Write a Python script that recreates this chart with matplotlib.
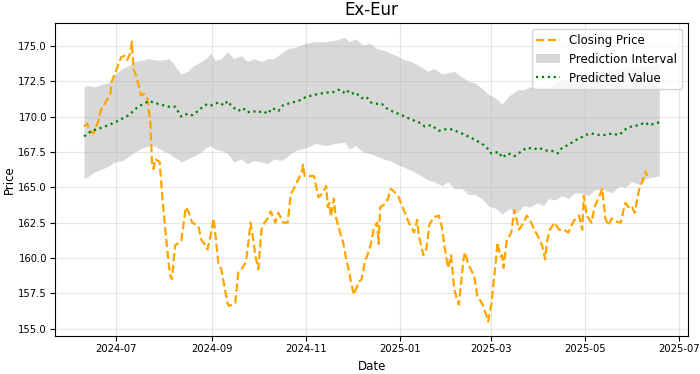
import pandas as pd
import matplotlib
matplotlib.use("Agg")
import matplotlib.pyplot as plt

# all series are days counted from the first date
start = pd.Timestamp("2024-06-10")

close_day = [0, 2, 4, 6, 9, 11, 15, 17, 18, 21, 24, 26, 28, 30, 31, 32, 34, 37, 39, 41,
             43, 44, 45, 46, 49, 51, 53, 55, 56, 57, 59, 63, 66, 68, 70, 74, 76, 78, 80, 82,
             84, 85, 87, 89, 91, 93, 94, 98, 100, 102, 105, 108, 110, 111, 112, 113, 115, 117, 119, 121,
             124, 126, 129, 132, 134, 136, 139, 141, 142, 143, 146, 149, 152, 155, 157, 158, 159, 160, 162, 163,
             166, 168, 170, 172, 173, 175, 178, 180, 182, 184, 186, 188, 190, 191, 192, 195, 197, 199, 201, 204,
             208, 211, 214, 216, 217, 220, 222, 224, 227, 230, 232, 234, 236, 238, 240, 242, 243, 246, 247, 249,
             253, 255, 258, 261, 262, 264, 267, 268, 270, 271, 272, 274, 277, 279, 282, 285, 287, 289, 292, 294,
             297, 299, 300, 302, 305, 308, 311, 314, 316, 318, 321, 323, 324, 326, 329, 331, 335, 336, 338, 340,
             342, 344, 348, 350, 351, 353, 355, 357, 360, 362, 364, 365]
close_val = [169.3, 169.5, 169.0, 168.8, 169.6, 170.5, 171.2, 171.6, 172.5, 173.3, 174.2, 174.3, 174.0, 174.5, 175.3, 173.4, 172.8, 171.5, 171.6, 171.3,
             169.6, 166.8, 166.3, 167.0, 166.8, 164.0, 161.6, 159.5, 158.7, 158.5, 160.9, 161.2, 163.6, 163.2, 162.5, 162.3, 161.3, 161.0, 160.6, 161.6,
             162.8, 161.8, 159.7, 159.2, 158.0, 156.8, 156.6, 156.8, 159.0, 159.2, 159.7, 162.5, 161.1, 160.2, 159.7, 159.2, 162.0, 162.5, 162.8, 163.3,
             162.5, 163.2, 162.5, 162.5, 164.5, 164.9, 165.6, 166.0, 166.6, 165.8, 165.8, 165.8, 164.3, 164.6, 165.1, 163.6, 163.9, 162.9, 164.2, 163.0,
             161.8, 161.1, 159.9, 159.0, 158.3, 157.4, 158.3, 158.5, 159.7, 160.3, 161.0, 162.2, 162.5, 161.0, 163.6, 163.8, 164.2, 164.9, 164.7, 164.3,
             163.2, 162.4, 161.8, 162.7, 161.6, 160.2, 160.7, 162.4, 162.9, 163.0, 162.2, 160.6, 159.3, 160.2, 157.8, 157.0, 156.7, 159.9, 160.4, 159.6,
             158.7, 157.3, 156.8, 155.9, 155.5, 156.7, 159.8, 161.1, 160.1, 160.2, 159.3, 161.2, 161.8, 163.4, 162.0, 162.5, 163.0, 162.7, 162.0, 161.6,
             160.9, 159.9, 161.1, 162.0, 162.5, 162.0, 162.0, 161.8, 162.3, 162.7, 163.0, 162.0, 164.4, 163.0, 162.5, 163.6, 164.6, 164.9, 162.8, 162.3,
             162.8, 162.6, 162.5, 163.5, 163.9, 163.6, 163.7, 163.2, 164.9, 165.4, 166.1, 165.8]

band_day = [0, 3, 7, 12, 16, 20, 25, 29, 33, 38, 42, 46, 51, 55, 59, 63, 67, 71, 76, 79,
            82, 85, 89, 93, 97, 102, 106, 110, 115, 119, 123, 128, 132, 137, 144, 150, 157, 163, 169, 172,
            176, 181, 185, 190, 194, 198, 203, 206, 212, 219, 223, 227, 232, 236, 240, 245, 249, 253, 258, 262,
            267, 271, 276, 281, 285, 289, 294, 298, 301, 305, 310, 314, 318, 323, 327, 331, 336, 342, 347, 351,
            355, 360, 364, 368, 373]
band_upper = [172.1, 172.2, 172.1, 172.3, 172.4, 173.0, 173.4, 173.6, 173.9, 174.0, 174.1, 174.0, 174.0, 174.1, 173.6, 173.0, 173.2, 173.6, 173.9, 174.1,
              174.5, 174.0, 174.1, 174.6, 174.1, 174.3, 173.9, 174.1, 173.9, 174.1, 174.1, 174.5, 174.8, 174.9, 175.2, 175.3, 175.3, 175.4, 175.6, 175.3,
              175.5, 175.05, 175.2, 174.8, 174.7, 174.5, 174.3, 174.1, 173.9, 173.5, 173.2, 173.4, 173.0, 173.1, 173.2, 172.8, 172.5, 172.4, 172.0, 171.6,
              171.3, 170.9, 171.5, 171.9, 171.9, 172.1, 172.0, 172.2, 171.9, 172.4, 172.5, 172.7, 172.7, 173.0, 173.0, 173.2, 173.2, 173.3, 173.4, 173.4,
              173.5, 173.5, 173.6, 173.6, 173.7]
band_lower = [165.6, 165.8, 166.1, 166.3, 166.5, 166.8, 166.9, 167.2, 167.5, 167.8, 167.95, 167.9, 167.6, 167.4, 167.1, 166.8, 167.0, 167.2, 167.5, 167.8,
              167.95, 167.7, 167.6, 167.4, 166.8, 167.0, 166.65, 166.9, 166.8, 166.65, 167.0, 166.9, 167.2, 167.6, 167.8, 168.1, 167.95, 168.1, 168.2, 167.7,
              167.95, 167.5, 167.4, 167.2, 167.0, 166.9, 166.6, 166.5, 166.2, 165.8, 165.5, 165.4, 165.1, 165.4, 164.9, 164.9, 164.5, 164.5, 164.2, 163.7,
              163.5, 163.1, 163.5, 163.2, 163.7, 163.6, 163.9, 163.7, 164.2, 164.1, 164.4, 164.2, 164.6, 164.6, 164.4, 164.8, 164.9, 164.6, 165.1, 165.0,
              165.4, 165.2, 165.6, 165.7, 165.8]

pred_day = [0, 5, 11, 16, 22, 29, 35, 42, 48, 55, 59, 63, 67, 70, 74, 77, 80, 83, 87, 91,
            93, 96, 100, 103, 106, 109, 113, 116, 119, 122, 126, 129, 132, 135, 139, 144, 148, 152, 157, 161,
            165, 168, 170, 173, 176, 180, 183, 186, 190, 193, 196, 201, 204, 208, 212, 217, 221, 225, 230, 234,
            238, 243, 247, 251, 256, 259, 262, 264, 269, 271, 275, 279, 283, 287, 292, 295, 299, 303, 307, 310,
            314, 318, 322, 325, 329, 334, 338, 342, 347, 351, 355, 360, 364, 366, 370, 373]
pred_val = [168.6, 169.0, 169.2, 169.4, 169.7, 170.1, 170.7, 171.1, 170.9, 170.7, 170.7, 170.0, 170.2, 170.1, 170.4, 170.7, 170.9, 170.8, 171.0, 170.8,
            171.1, 170.7, 170.4, 170.6, 170.3, 170.4, 170.3, 170.4, 170.2, 170.6, 170.4, 170.8, 170.9, 171.0, 171.1, 171.4, 171.5, 171.6, 171.7, 171.7,
            171.9, 171.7, 171.9, 171.6, 171.7, 171.3, 171.4, 171.0, 170.9, 170.9, 170.6, 170.3, 170.2, 170.0, 169.8, 169.6, 169.3, 169.4, 169.0, 169.1,
            169.1, 168.9, 168.7, 168.5, 168.2, 168.0, 167.7, 167.4, 167.5, 167.1, 167.4, 167.2, 167.5, 167.8, 167.7, 167.8, 167.6, 167.6, 167.4, 167.8,
            168.0, 168.3, 168.5, 168.7, 168.8, 168.7, 168.7, 168.8, 168.7, 169.1, 169.3, 169.4, 169.6, 169.4, 169.5, 169.6]

close_dates = start + pd.to_timedelta(close_day, unit="D")
band_dates = start + pd.to_timedelta(band_day, unit="D")
pred_dates = start + pd.to_timedelta(pred_day, unit="D")

fig, ax = plt.subplots(figsize=(7, 3.74), dpi=100)
fig.subplots_adjust(left=0.079, right=0.983, top=0.938, bottom=0.102)

ax.plot(close_dates, close_val, color="orange", linestyle="--", linewidth=1.6, label="Closing Price")
ax.fill_between(band_dates, band_lower, band_upper, color="gray", alpha=0.3, linewidth=0,
                label="Prediction Interval")
ax.plot(pred_dates, pred_val, color="green", linestyle=":", linewidth=1.6, label="Predicted Value")

ax.set_title("Ex-Eur", fontsize=12)
ax.set_xlabel("Date", fontsize=8.5)
ax.set_ylabel("Price", fontsize=8.5, labelpad=2)
ax.tick_params(labelsize=7.2, pad=2.5)
ax.grid(True, alpha=0.3)
ax.legend(loc="upper right", fontsize=8.5)

fig.savefig("out.png", dpi=100)
